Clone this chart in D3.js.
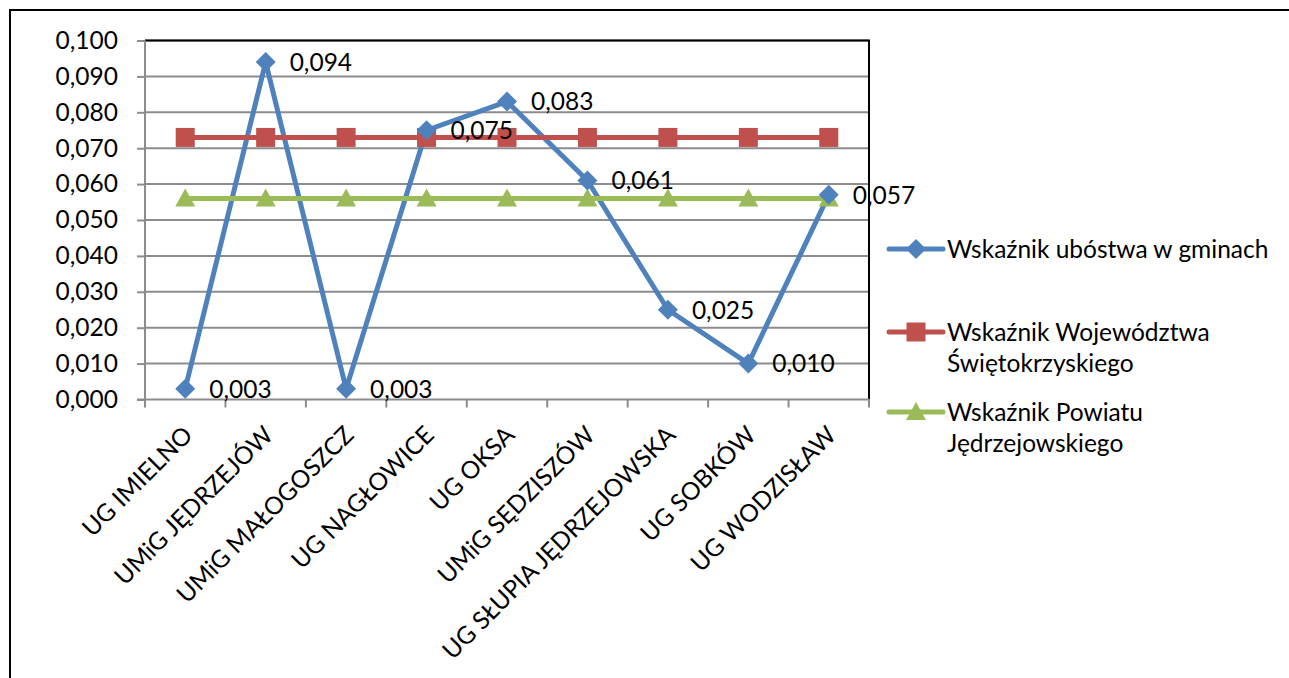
<!DOCTYPE html>
<html><head><meta charset="utf-8">
<script src="https://cdn.jsdelivr.net/npm/d3@7"></script>
<style>body{margin:0;background:#fff}svg{display:block}text{font-family:Lato,"Open Sans",sans-serif;fill:#000}</style>
</head><body><svg id="c" width="1289" height="678"></svg>
<script>
const categories=["UG IMIELNO","UMiG JĘDRZEJÓW","UMiG MAŁOGOSZCZ","UG NAGŁOWICE","UG OKSA","UMiG SĘDZISZÓW","UG SŁUPIA JĘDRZEJOWSKA","UG SOBKÓW","UG WODZISŁAW"];
const gminyValues=[0.003,0.094,0.003,0.075,0.083,0.061,0.025,0.010,0.057];
const wojValues=[0.073,0.073,0.073,0.073,0.073,0.073,0.073,0.073,0.073];
const powValues=[0.056,0.056,0.056,0.056,0.056,0.056,0.056,0.056,0.056];
const yTicks=[0,0.01,0.02,0.03,0.04,0.05,0.06,0.07,0.08,0.09,0.1];
const seriesNames=[["Wskaźnik ubóstwa w gminach"],["Wskaźnik Województwa","Świętokrzyskiego"],["Wskaźnik Powiatu","Jędrzejowskiego"]];
const colors=["#4F81BD","#C0504D","#9BBB59"];

const svg=d3.select("#c");
const FS=24.5;
const L=145,R=869,T=40.5,B=399.5;
const fmt=v=>d3.format(".3f")(v).replace(".",",");
const x=d3.scaleBand().domain(categories).range([L,R]);
const y=d3.scaleLinear().domain([0,0.1]).range([B,T]);
const cx=c=>x(c)+x.bandwidth()/2;

svg.append("line").attr("x1",9).attr("x2",1289).attr("y1",10).attr("y2",10).attr("stroke","#000").attr("stroke-width",2);
svg.append("line").attr("x1",10).attr("x2",10).attr("y1",9).attr("y2",678).attr("stroke","#000").attr("stroke-width",2);

svg.append("g").selectAll("line").data(yTicks.slice(1)).join("line")
  .attr("x1",L).attr("x2",R).attr("y1",d=>y(d)).attr("y2",d=>y(d))
  .attr("stroke","#8c8c8c").attr("stroke-width",2);
svg.append("line").attr("x1",L).attr("x2",R+1).attr("y1",T).attr("y2",T).attr("stroke","#000").attr("stroke-width",2);
svg.append("line").attr("x1",R).attr("x2",R).attr("y1",T).attr("y2",B).attr("stroke","#000").attr("stroke-width",2);

const ya=svg.append("g").attr("transform",`translate(${L},0)`).call(d3.axisLeft(y).tickValues(yTicks).tickFormat(fmt).tickSize(8).tickPadding(19));
ya.select(".domain").attr("stroke","#8c8c8c").attr("stroke-width",2).attr("d",`M0,${T}V${B}`);
ya.selectAll(".tick line").attr("stroke","#8c8c8c").attr("stroke-width",2);
ya.selectAll(".tick text").attr("font-size",FS).attr("font-family","Lato").attr("fill","#000");

const xb=d3.scaleLinear().domain([0,categories.length]).range([L,R]);
const xa=svg.append("g").attr("transform",`translate(0,${B})`);
xa.append("line").attr("x1",L-8).attr("x2",R).attr("stroke","#8c8c8c").attr("stroke-width",2);
xa.selectAll("line.t").data(d3.range(categories.length+1)).join("line").attr("class","t")
  .attr("x1",d=>xb(d)).attr("x2",d=>xb(d)).attr("y1",0).attr("y2",8).attr("stroke","#8c8c8c").attr("stroke-width",2);
xa.selectAll("text").data(categories).join("text")
  .attr("transform",d=>`translate(${cx(d)+9},${37}) rotate(-45)`)
  .attr("text-anchor","end").attr("font-size",FS).text(d=>d);

const line=d3.line().x((d,i)=>cx(categories[i])).y(d=>y(d));
const all=[gminyValues,wojValues,powValues];
[0,1,2].forEach(k=>{
  svg.append("path").attr("d",line(all[k])).attr("fill","none").attr("stroke",colors[k]).attr("stroke-width",5).attr("stroke-linejoin","round");
});
function marker(g,k,px,py){
  if(k===0) g.append("path").attr("d","M0,-10L10,0L0,10L-10,0Z").attr("transform",`translate(${px},${py})`).attr("fill",colors[0]);
  else if(k===1) g.append("rect").attr("x",px-9.5).attr("y",py-9.5).attr("width",19).attr("height",19).attr("fill",colors[1]);
  else g.append("path").attr("d","M0,-10L10,8L-10,8Z").attr("transform",`translate(${px},${py})`).attr("fill",colors[2]);
}
[1,2,0].forEach(k=>{
  const g=svg.append("g");
  all[k].forEach((v,i)=>marker(g,k,cx(categories[i]),y(v)));
});
svg.append("g").selectAll("text").data(gminyValues).join("text")
  .attr("x",(d,i)=>cx(categories[i])+24).attr("y",d=>y(d)).attr("dy","0.36em")
  .attr("font-size",FS).text(d=>fmt(d));

const legY=[249,332,412];
seriesNames.forEach((n,k)=>{
  const g=svg.append("g");
  g.append("line").attr("x1",889).attr("x2",943).attr("y1",legY[k]).attr("y2",legY[k]).attr("stroke",colors[k]).attr("stroke-width",5).attr("stroke-linecap","round");
  marker(g,k,916,legY[k]);
  n.forEach((t,j)=>g.append("text").attr("x",947).attr("y",legY[k]+j*31).attr("dy","0.36em").attr("font-size",FS).text(t));
});
</script></body></html>
